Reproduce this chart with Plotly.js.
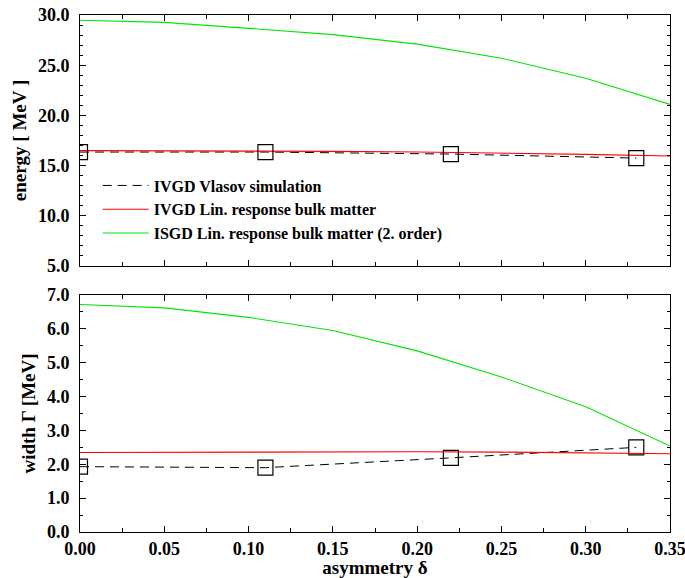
<!DOCTYPE html>
<html><head><meta charset="utf-8">
<script src="https://cdn.plot.ly/plotly-3.0.1.min.js"></script>
<style>body{margin:0;background:#fff}#c{width:685px;height:578px}</style>
</head><body><div id="c"></div>
<script>
const xTheory = [0.0, 0.05, 0.10, 0.15, 0.20, 0.25, 0.30, 0.35];
const energyISGD = [29.47, 29.27, 28.67, 28.05, 27.1, 25.7, 23.7, 21.1];
const energyIVGDLin = [16.49, 16.48, 16.46, 16.42, 16.35, 16.25, 16.12, 15.96];
const xSim = [0.0, 0.11, 0.22, 0.33];
const energySim = [16.35, 16.35, 16.15, 15.75];
const widthISGD = [6.72, 6.62, 6.34, 5.95, 5.35, 4.58, 3.70, 2.54];
const widthIVGDLin = [2.35, 2.36, 2.37, 2.37, 2.37, 2.36, 2.34, 2.31];
const widthSim = [1.93, 1.90, 2.19, 2.50];
const names = ["IVGD Vlasov simulation", "IVGD Lin. response bulk matter", "ISGD Lin. response bulk matter (2. order)"];

const FAM = "Liberation Serif, Times New Roman, serif";
const F = {family: FAM, size: 18, color: "#000", weight: "bold"};
const LF = {family: FAM, size: 16, color: "#000", weight: "bold"};
const TF = {family: FAM, size: 19, color: "#000", weight: "bold"};
const dashStyle = "9px,6px";
const GREEN = "#00e600", RED = "#ff0000";
const SQ = {symbol: "square-open", size: 15, color: "#000", line: {width: 1.2, color: "#000"}};

const traces = [
  {x: xSim, y: energySim, xaxis: "x", yaxis: "y", mode: "lines", name: names[0], line: {color: "#000", width: 1, dash: dashStyle}},
  {x: xTheory, y: energyIVGDLin, xaxis: "x", yaxis: "y", mode: "lines", name: names[1], line: {color: RED, width: 1.1}},
  {x: xTheory, y: energyISGD, xaxis: "x", yaxis: "y", mode: "lines", name: names[2], line: {color: GREEN, width: 1.1}},
  {x: xSim, y: energySim, xaxis: "x", yaxis: "y", mode: "markers", showlegend: false, marker: SQ},
  {x: xSim, y: widthSim, xaxis: "x2", yaxis: "y2", mode: "lines", showlegend: false, line: {color: "#000", width: 1, dash: dashStyle}},
  {x: xSim, y: widthSim, xaxis: "x2", yaxis: "y2", mode: "markers", showlegend: false, marker: SQ},
  {x: xTheory, y: widthIVGDLin, xaxis: "x2", yaxis: "y2", mode: "lines", showlegend: false, line: {color: RED, width: 1.1}},
  {x: xTheory, y: widthISGD, xaxis: "x2", yaxis: "y2", mode: "lines", showlegend: false, line: {color: GREEN, width: 1.1}}
];

const axBase = {showgrid: false, zeroline: false, showline: true, linecolor: "#000", linewidth: 1, mirror: "ticks",
  ticks: "inside", ticklen: 6, tickwidth: 1, tickcolor: "#000", tickfont: F, ticklabeloverflow: "allow"};

const layout = {
  width: 685, height: 578,
  margin: {l: 80, r: 15, t: 15, b: 46},
  paper_bgcolor: "#fff", plot_bgcolor: "#fff",
  font: F,
  showlegend: true,
  legend: {x: 0.03, y: 0.703, xanchor: "left", yanchor: "top", bgcolor: "rgba(0,0,0,0)", borderwidth: 0, font: LF, itemwidth: 46, tracegroupgap: 0, traceorder: "normal"},
  xaxis: Object.assign({}, axBase, {domain: [0, 1], anchor: "y", range: [0, 0.35], dtick: 0.05, showticklabels: false, minor: {dtick: 0.025, ticks: "inside", ticklen: 4, tickcolor: "#000"}}),
  yaxis: Object.assign({}, axBase, {domain: [0.5145, 1], anchor: "x", range: [5, 30], dtick: 5, tickformat: ".1f", ticklabelstandoff: 6, minor: {dtick: 1, ticks: "inside", ticklen: 3, tickcolor: "#000"},
    title: {text: "energy [ MeV ]", font: TF, standoff: 6}}),
  xaxis2: Object.assign({}, axBase, {domain: [0, 1], anchor: "y2", range: [0, 0.35], dtick: 0.05, tickformat: ".2f", minor: {dtick: 0.025, ticks: "inside", ticklen: 4, tickcolor: "#000"},
    title: {text: "asymmetry δ", font: TF, standoff: 2}}),
  yaxis2: Object.assign({}, axBase, {domain: [0, 0.4584], anchor: "x2", range: [0, 7], dtick: 1, tickformat: ".1f", ticklabelstandoff: 6, minor: {dtick: 0.5, ticks: "inside", ticklen: 3, tickcolor: "#000"},
    title: {text: "width Γ [MeV]", font: TF, standoff: 6}})
};

Plotly.newPlot("c", traces, layout, {displayModeBar: false, staticPlot: true});
</script></body></html>
